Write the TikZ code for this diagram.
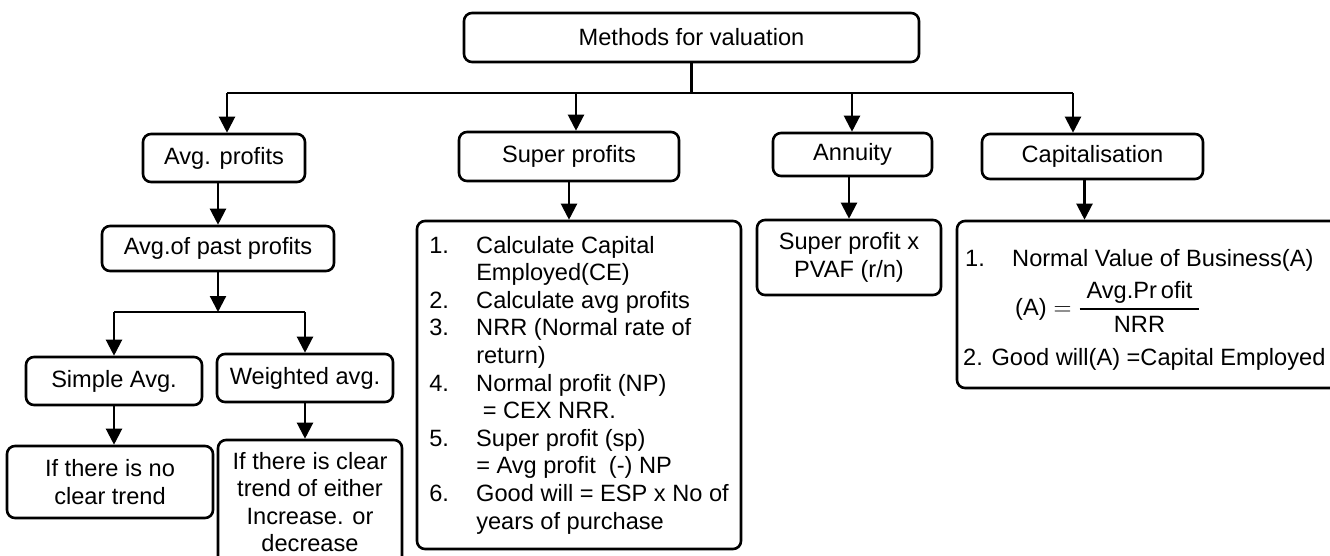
\documentclass[tikz,border=0pt]{standalone}
\usepackage{fontspec}
\setmainfont{Liberation Sans}
\usetikzlibrary{arrows.meta,positioning,calc}
\newcommand{\itemno}[1]{\makebox[47pt][l]{#1}}
\tikzset{
  >={Triangle[length=16pt,width=16pt]},
  box/.style={draw,line width=2.6pt,rounded corners=8pt,align=center,inner sep=0pt},
  wire/.style={line width=2.2pt},
  txt/.style={inner sep=0pt,anchor=base west},
}

\begin{document}
\begin{tikzpicture}[x=1pt,y=-1pt,font=\fontsize{23.6}{27.6}\selectfont]
    \useasboundingbox (0,0) rectangle (1330,555);
    \clip (0,0) rectangle (1330,555);
    % methods
    \node[box,minimum width=455pt,minimum height=49pt] (top) at (691.5,37.5) {Methods for valuation};
    \node[box,minimum width=162pt,minimum height=48pt] (avg) at (224,158) {Avg. profits};
    \node[box,minimum width=220pt,minimum height=49pt] (sup) at (569,156.5) {Super profits};
    \node[box,minimum width=159pt,minimum height=43pt] (ann) at (852.5,154.5) {Annuity};
    \node[box,minimum width=221pt,minimum height=45pt] (cap) at (1092.5,156.5) {Capitalisation};
    % average profits branch
    \node[box,minimum width=232pt,minimum height=45pt] (past) at (218,248.5) {Avg.of past profits};
    \node[box,minimum width=176pt,minimum height=48pt] (simple) at (114,381) {Simple Avg.};
    \node[box,minimum width=176pt,minimum height=48pt] (weighted) at (305,378) {Weighted avg.};
    \node[box,minimum width=206pt,minimum height=72pt] (notrend) at (110,482) {If there is no\\clear trend};
    \node[box,minimum width=184pt,minimum height=124pt] (trend) at (310,502)
      {If there is clear\\trend of either\\Increase. or\\decrease};
    % super profits steps
    \node[box,minimum width=324pt,minimum height=328pt,align=left] (slist) at (579,385) {%
      \itemno{1.}Calculate Capital\\
      \itemno{}Employed(CE)\\
      \itemno{2.}Calculate avg profits\\
      \itemno{3.}NRR (Normal rate of\\
      \itemno{}return)\\
      \itemno{4.}Normal profit (NP)\\
      \itemno{}\ = CEX NRR.\\
      \itemno{5.}Super profit (sp)\\
      \itemno{}= Avg profit\ \ (-) NP\\
      \itemno{6.}Good will = ESP x No of\\
      \itemno{}years of purchase};
    \node[box,minimum width=184pt,minimum height=75pt] (pvaf) at (849,257.5) {Super profit x\\PVAF (r/n)};
    % capitalisation
    \node[box,minimum width=388pt,minimum height=167pt] (clist) at (1151,304.5) {};
    \node[txt] (c1) at (965,266) {1.};
    \node[txt] (c1t) at (1012,266) {Normal Value of Business(A)};
    \node[txt] (frm) at (1015,315)
      {$\mbox{(A)} = \displaystyle{\mbox{\hspace{7pt}Avg.Pr\,ofit\hspace{7pt}} \above 1.6pt \mbox{NRR}}$};
    \node[txt] (c2) at (963,365) {2. Good will(A) =Capital Employed};

    % connectors
    \coordinate (dAvg) at (227,93);
    \coordinate (dSup) at (576,93);
    \coordinate (dAnn) at (852,93);
    \coordinate (dCap) at (1073,93);
    \draw[wire] (top) -- (top |- dAvg);
    \draw[wire] (dAvg) -- (dCap);
    \foreach \d/\b in {dAvg/avg,dSup/sup,dAnn/ann,dCap/cap}
      \draw[wire,->] (\d) -- (\d |- \b.north);
    \draw[wire,->] (past.north |- avg.south) -- (past.north);
    \coordinate (fork) at (218,312);
    \draw[wire,->] (past) -- (fork);
    \draw[wire] (simple.north |- fork) -- (weighted.north |- fork);
    \draw[wire,->] (simple.north |- fork) -- (simple.north);
    \draw[wire,->] (weighted.north |- fork) -- (weighted.north);
    \draw[wire,->] (simple) -- (simple |- notrend.north);
    \draw[wire,->] (weighted) -- (weighted |- trend.north);
    \draw[wire,->] (sup) -- (sup |- slist.north);
    \draw[wire,->] (pvaf.north |- ann.south) -- (pvaf.north);
    \draw[wire,->] ([xshift=-8pt]cap.south) -- ([xshift=-8pt]cap.south |- clist.north);
\end{tikzpicture}
\end{document}
